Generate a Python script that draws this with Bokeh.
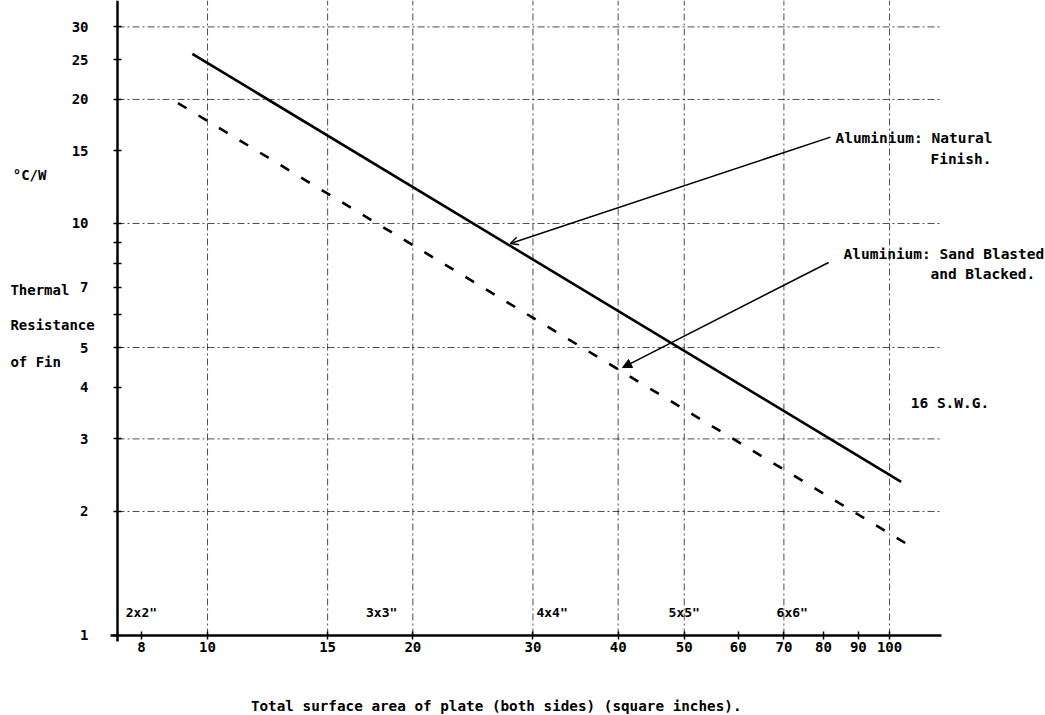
from bokeh.plotting import figure
from bokeh.models import FixedTicker, Label, Arrow, NormalHead, OpenHead, Range1d, ColumnDataSource
from bokeh.core.properties import value
from bokeh.embed import file_html
from bokeh.resources import INLINE

# ---------------- data ----------------
# Aluminium: Natural Finish (solid line)
area_natural = [9.5, 104.0]
res_natural = [25.8, 2.36]
# Aluminium: Sand Blasted and Blacked (dashed line)
area_blasted = [9.05, 106.5]
res_blasted = [19.6, 1.66]

# square plate sizes and their total (both sides) surface area
plate_labels = ['2x2"', '3x3"', '4x4"', '5x5"', '6x6"']
plate_areas = [8, 18, 32, 50, 72]

x_ticks = [8, 10, 15, 20, 30, 40, 50, 60, 70, 80, 90, 100]
x_tick_labels = ["8", "10", "15", "20", "30", "40", "50", "60", "70", "80", "90", "100"]
y_ticks = [1, 2, 3, 4, 5, 6, 7, 8, 9, 10, 15, 20, 25, 30]
y_tick_labels = ["1", "2", "3", "4", "5", "", "7", "", "", "10", "15", "20", "25", "30"]
x_grid = [10, 15, 20, 30, 40, 50, 70, 100]
y_grid = [2, 3, 5, 10, 20, 30]

FONT = "DejaVu Sans Mono"

# axis extents (data units)
X_AXIS_LO, X_AXIS_HI = 7.38, 119.2
Y_AXIS_LO, Y_AXIS_HI = 1.0, 34.77

p = figure(width=1045, height=715, x_axis_type="log", y_axis_type="log",
           x_range=Range1d(4.971, 169.3), y_range=Range1d(0.6394, 34.77),
           output_backend="svg", toolbar_location=None,
           min_border_left=0, min_border_right=0, min_border_top=0, min_border_bottom=0)
p.outline_line_color = None
p.background_fill_color = "white"
p.border_fill_color = "white"
p.xgrid.visible = False
p.ygrid.visible = False

# axes drawn inside the frame at fixed positions
p.xaxis.fixed_location = Y_AXIS_LO
p.yaxis.fixed_location = X_AXIS_LO
p.xaxis.bounds = (7.21, X_AXIS_HI)
p.yaxis.bounds = (0.967, Y_AXIS_HI)
for ax, ticks, labels in ((p.xaxis[0], x_ticks, x_tick_labels), (p.yaxis[0], y_ticks, y_tick_labels)):
    ax.ticker = FixedTicker(ticks=ticks)
    ax.major_label_overrides = {t: l for t, l in zip(ticks, labels)}
    ax.axis_line_color = "black"
    ax.axis_line_width = 2.5
    ax.major_tick_line_color = "black"
    ax.major_tick_line_width = 1.5
    ax.major_tick_in = 4
    ax.major_tick_out = 4
    ax.minor_tick_line_color = None
    ax.major_label_text_font = FONT
    ax.major_label_text_font_style = "bold"
    ax.major_label_text_font_size = "14px"
    ax.major_label_text_color = "black"
p.xaxis.major_label_standoff = 3
p.yaxis.major_label_standoff = 25

# dash-dot grid lines, limited to the axes' extent
nx, ny = len(x_grid), len(y_grid)
grid_style = dict(line_color="black", line_alpha=0.7, line_width=1, line_dash="7 3 2 3")
p.segment(x0=x_grid, y0=[Y_AXIS_LO] * nx, x1=x_grid, y1=[Y_AXIS_HI] * nx, **grid_style)
p.segment(x0=[X_AXIS_LO] * ny, y0=y_grid, x1=[X_AXIS_HI] * ny, y1=y_grid, **grid_style)

# curves
p.line(area_natural, res_natural, line_color="black", line_width=2.6)
p.line(area_blasted, res_blasted, line_color="black", line_width=2.6, line_dash="10 14")

# plate size labels
src = ColumnDataSource(dict(x=plate_areas, y=[Y_AXIS_LO] * len(plate_areas), t=plate_labels))
p.text(x="x", y="y", text="t", source=src, y_offset=-23, text_align="center",
       text_baseline="middle", text_font=value(FONT), text_font_style="bold",
       text_font_size="13px", text_color="black")

# leaders
p.add_layout(Arrow(end=OpenHead(size=8, line_width=1.5, line_color="black"),
                   x_start=81.9, y_start=16.2, x_end=27.8, y_end=8.94,
                   line_color="black", line_width=1.5))
p.add_layout(Arrow(end=NormalHead(size=9, fill_color="black", line_color="black"),
                   x_start=81.4, y_start=8.04, x_end=40.6, y_end=4.47,
                   line_color="black", line_width=1.5))

def label(x, y, text, align="left", size="14.5px"):
    p.add_layout(Label(x=x, y=y, text=text, text_align=align, text_baseline="middle",
                       text_font=FONT, text_font_style="bold", text_font_size=size,
                       text_color="black"))

label(83.3, 16.08, "Aluminium: Natural")
label(114.8, 14.30, "Finish.")
label(85.6, 8.41, "Aluminium: Sand Blasted")
label(114.8, 7.56, "and Blacked.")
label(107.4, 3.66, "16 S.W.G.")

label(5.18, 13.08, "°C/W", size="14px")
label(5.14, 6.88, "Thermal", size="14px")
label(5.14, 5.655, "Resistance", size="14px")
label(5.14, 4.60, "of Fin", size="14px")

label(26.5, 0.676, "Total surface area of plate (both sides) (square inches).", align="center", size="14.3px")

open("out.html", "w").write(file_html(p, INLINE))
